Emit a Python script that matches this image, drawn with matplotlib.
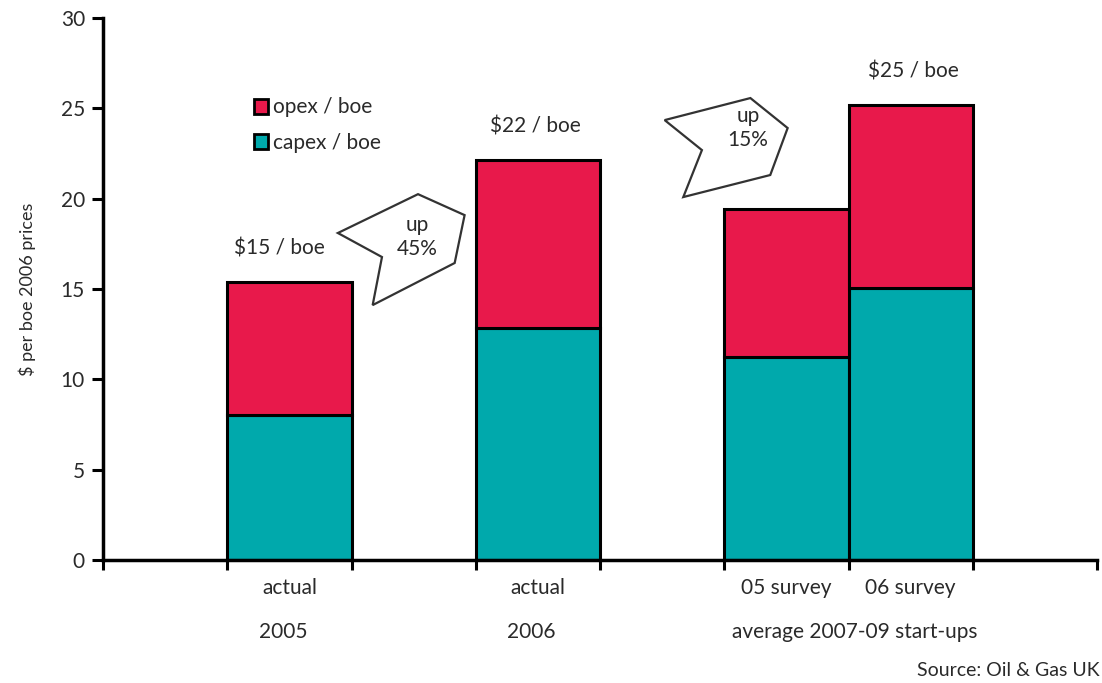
import matplotlib
matplotlib.use("Agg")
import matplotlib.pyplot as plt
from matplotlib.patches import Polygon, Patch
from matplotlib.transforms import blended_transform_factory

plt.rcParams['font.family'] = ['Lato', 'DejaVu Sans']

# data ($ per boe, 2006 prices)
categories = ['actual', 'actual', '05 survey', '06 survey']
capex = [8.0, 12.85, 11.25, 15.05]
opex = [7.4, 9.3, 8.2, 10.15]
total_labels = ['$15 / boe', '$22 / boe', None, '$25 / boe']
group_labels = ['2005', '2006', 'average 2007-09 start-ups']
change_labels = ['up\n45%', 'up\n15%']
y_ticks = [0, 5, 10, 15, 20, 25, 30]

red = '#e8194b'
teal = '#00a9ac'
txt = '#2a2a2a'

# layout (bar left edges in axis units, axis spans 0..8)
bar_left = [1, 3, 5, 6]
label_dx = [0.42, 0.48, 0.5, 0.52]
group_x = [1.45, 3.45, 6.05]

fig = plt.figure(figsize=(11.02, 6.83), dpi=100)
ax = fig.add_axes([0.0935, 0.1801, 0.902, 0.7935])

ax.bar(bar_left, capex, width=1, align='edge', color=teal,
       edgecolor='black', linewidth=2.2, zorder=2)
ax.bar(bar_left, opex, width=1, bottom=capex, align='edge', color=red,
       edgecolor='black', linewidth=2.2, zorder=2)

for x, dx, c, o, lab in zip(bar_left, label_dx, capex, opex, total_labels):
    if lab:
        ax.text(x + dx, c + o + 1.3, lab, ha='center', va='bottom',
                fontsize=15, color=txt)

ax.set_xlim(0, 8)
ax.set_ylim(0, 30)
ax.set_yticks(y_ticks)
ax.set_yticklabels([str(v) for v in y_ticks], fontsize=15, color=txt)
ax.set_xticks(range(0, 9))
ax.set_xticklabels([])
ax.tick_params(axis='y', direction='out', length=8, width=2.2, pad=5)
ax.tick_params(axis='x', direction='out', length=7, width=2.2)
for s in ['top', 'right']:
    ax.spines[s].set_visible(False)
for s in ['left', 'bottom']:
    ax.spines[s].set_linewidth(2.5)

ax.set_ylabel('$ per boe 2006 prices', fontsize=13, color=txt, labelpad=18)

trans = blended_transform_factory(ax.transData, ax.transAxes)
for x, lab in zip(bar_left, categories):
    ax.text(x + 0.5, -0.052, lab, transform=trans, ha='center', va='center',
            fontsize=15, color=txt)
for x, lab in zip(group_x, group_labels):
    ax.text(x, -0.132, lab, transform=trans, ha='center', va='center',
            fontsize=15, color=txt)

# callout shapes
callouts = [
    [(1.89, 18.1), (2.535, 20.25), (2.91, 19.09), (2.83, 16.44), (2.17, 14.11), (2.245, 16.77)],
    [(4.52, 24.35), (5.21, 25.57), (5.51, 23.91), (5.37, 21.31), (4.67, 20.09), (4.82, 22.69)],
]
centers = [(2.53, 17.9), (5.19, 23.9)]
for pts, (cx, cy), lab in zip(callouts, centers, change_labels):
    ax.add_patch(Polygon(pts, closed=True, facecolor='white', edgecolor='#333333',
                         linewidth=1.6, zorder=3))
    ax.text(cx, cy, lab, ha='center', va='center', fontsize=15, color=txt,
            linespacing=1.25, zorder=4)

handles = [Patch(facecolor=red, edgecolor='black', linewidth=2),
           Patch(facecolor=teal, edgecolor='black', linewidth=2)]
ax.legend(handles, ['opex / boe', 'capex / boe'], loc='upper left',
          bbox_to_anchor=(0.133, 0.888), frameon=False, fontsize=15,
          handlelength=0.65, handleheight=0.75, handletextpad=0.25,
          labelspacing=0.75, labelcolor=txt)

fig.text(0.998, 0.019, 'Source: Oil & Gas UK', ha='right', va='center',
         fontsize=14, color=txt)

fig.savefig('out.png', dpi=100)
